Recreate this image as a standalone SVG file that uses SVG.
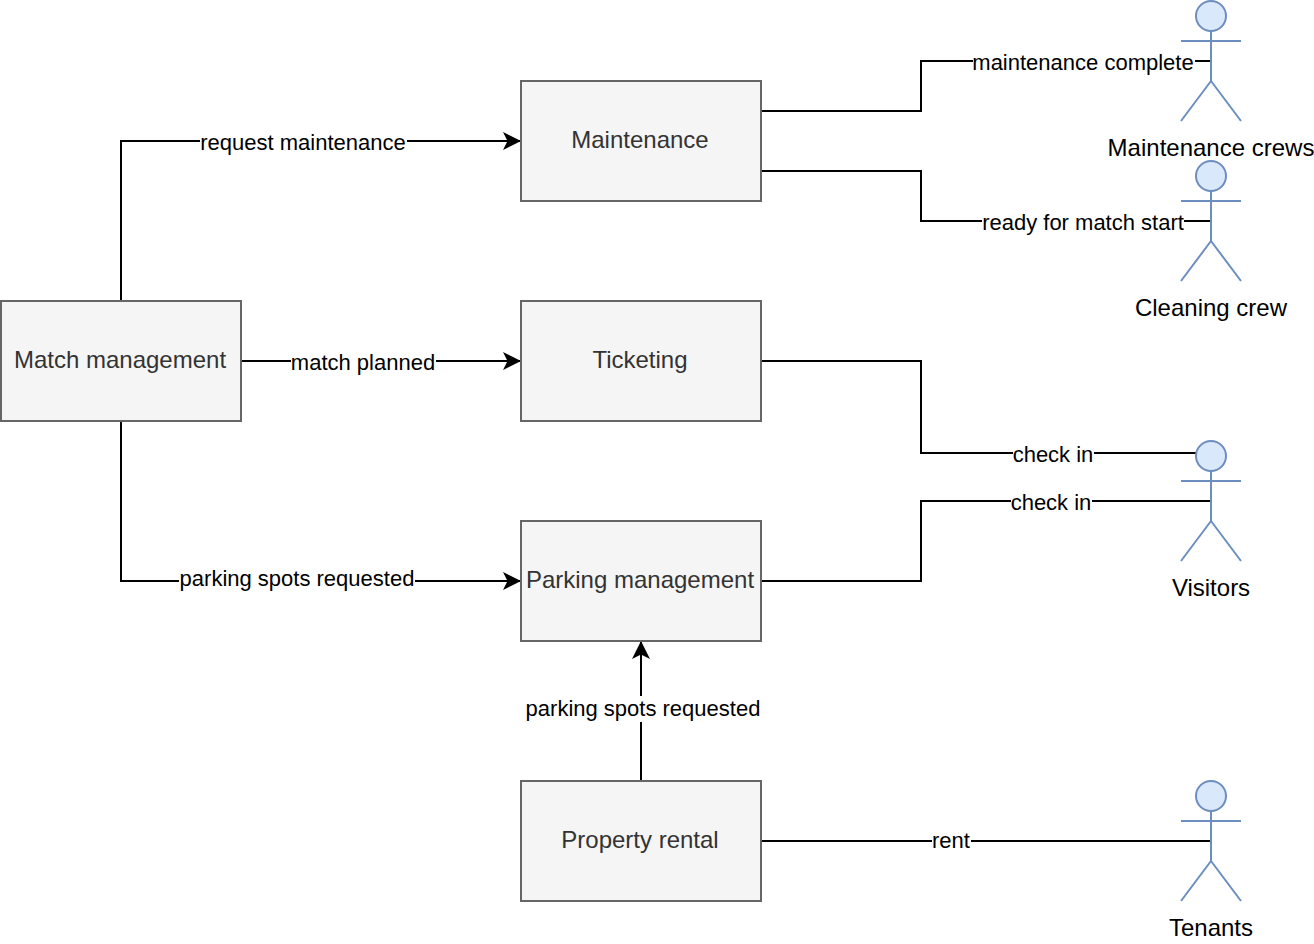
<svg xmlns="http://www.w3.org/2000/svg" width="1314" height="944" viewBox="0 0 1314 944">
<style>
text{font-family:"Liberation Sans",Arial,sans-serif;text-anchor:middle}
.box{fill:#f5f5f5;stroke:#666;stroke-width:2}
.bt{font-size:24px;fill:#333}
.lb{font-size:22px;fill:#000}
.at{font-size:24px;fill:#000}
.a{fill:#dae8fc;stroke:#6c8ebf;stroke-width:2}
.al{fill:none;stroke:#6c8ebf;stroke-width:2}
.c{fill:none;stroke:#000;stroke-width:2}
.bg{fill:#fff}
</style>
<defs>
<marker id="arr" markerUnits="userSpaceOnUse" markerWidth="19" markerHeight="20" refX="18" refY="10" orient="auto"><path d="M0 1L18 10L0 19L4.500 10Z" fill="#000"/></marker>
<g id="actor"><circle class="a" cx="30" cy="15" r="15"/><path class="al" d="M30 30V80M0 40H60M30 80L0 120M30 80L60 120"/></g>
</defs>
<rect width="1314" height="944" fill="#fff"/>
<g id="connectors">
<path class="c" d="M121 301V141H521" marker-end="url(#arr)"/>
<path class="c" d="M241 361H521" marker-end="url(#arr)"/>
<path class="c" d="M121 421V581H521" marker-end="url(#arr)"/>
<path class="c" d="M641 781V641" marker-end="url(#arr)"/>
<path class="c" d="M761 111H921V61H1211"/>
<path class="c" d="M761 171H921V221H1211"/>
<path class="c" d="M761 361H921V453H1196"/>
<path class="c" d="M761 581H921V501H1211"/>
<path class="c" d="M761 841H1211"/>
<rect class="bg" x="200" y="130" width="207" height="24"/><text class="lb" x="303" y="150">request maintenance</text>
<rect class="bg" x="291" y="350" width="145" height="24"/><text class="lb" x="363" y="370">match planned</text>
<rect class="bg" x="179" y="567" width="236" height="24"/><text class="lb" x="297" y="586">parking spots requested</text>
<rect class="bg" x="525" y="696" width="236" height="26"/><text class="lb" x="643" y="716">parking spots requested</text>
<rect class="bg" x="973" y="50" width="222" height="24"/><text class="lb" x="1083" y="70">maintenance complete</text>
<rect class="bg" x="982" y="210" width="202" height="24"/><text class="lb" x="1083" y="230">ready for match start</text>
<rect class="bg" x="1013" y="442" width="81" height="24"/><text class="lb" x="1053" y="462">check in</text>
<rect class="bg" x="1011" y="490" width="81" height="24"/><text class="lb" x="1051" y="510">check in</text>
<rect class="bg" x="932" y="830" width="39" height="24"/><text class="lb" x="951" y="848">rent</text>
</g>
<g id="match-management"><rect class="box" x="1" y="301" width="240" height="120"/><text class="bt" x="120" y="368">Match management</text></g>
<g id="maintenance"><rect class="box" x="521" y="81" width="240" height="120"/><text class="bt" x="640" y="148">Maintenance</text></g>
<g id="ticketing"><rect class="box" x="521" y="301" width="240" height="120"/><text class="bt" x="640" y="368">Ticketing</text></g>
<g id="parking-management"><rect class="box" x="521" y="521" width="240" height="120"/><text class="bt" x="640" y="588">Parking management</text></g>
<g id="property-rental"><rect class="box" x="521" y="781" width="240" height="120"/><text class="bt" x="640" y="848">Property rental</text></g>
<g id="maintenance-crews"><use href="#actor" x="1181" y="1"/><text class="at" x="1211" y="156">Maintenance crews</text></g>
<g id="cleaning-crew"><use href="#actor" x="1181" y="161"/><text class="at" x="1211" y="316">Cleaning crew</text></g>
<g id="visitors"><use href="#actor" x="1181" y="441"/><text class="at" x="1211" y="596">Visitors</text></g>
<g id="tenants"><use href="#actor" x="1181" y="781"/><text class="at" x="1211" y="936">Tenants</text></g>
</svg>
